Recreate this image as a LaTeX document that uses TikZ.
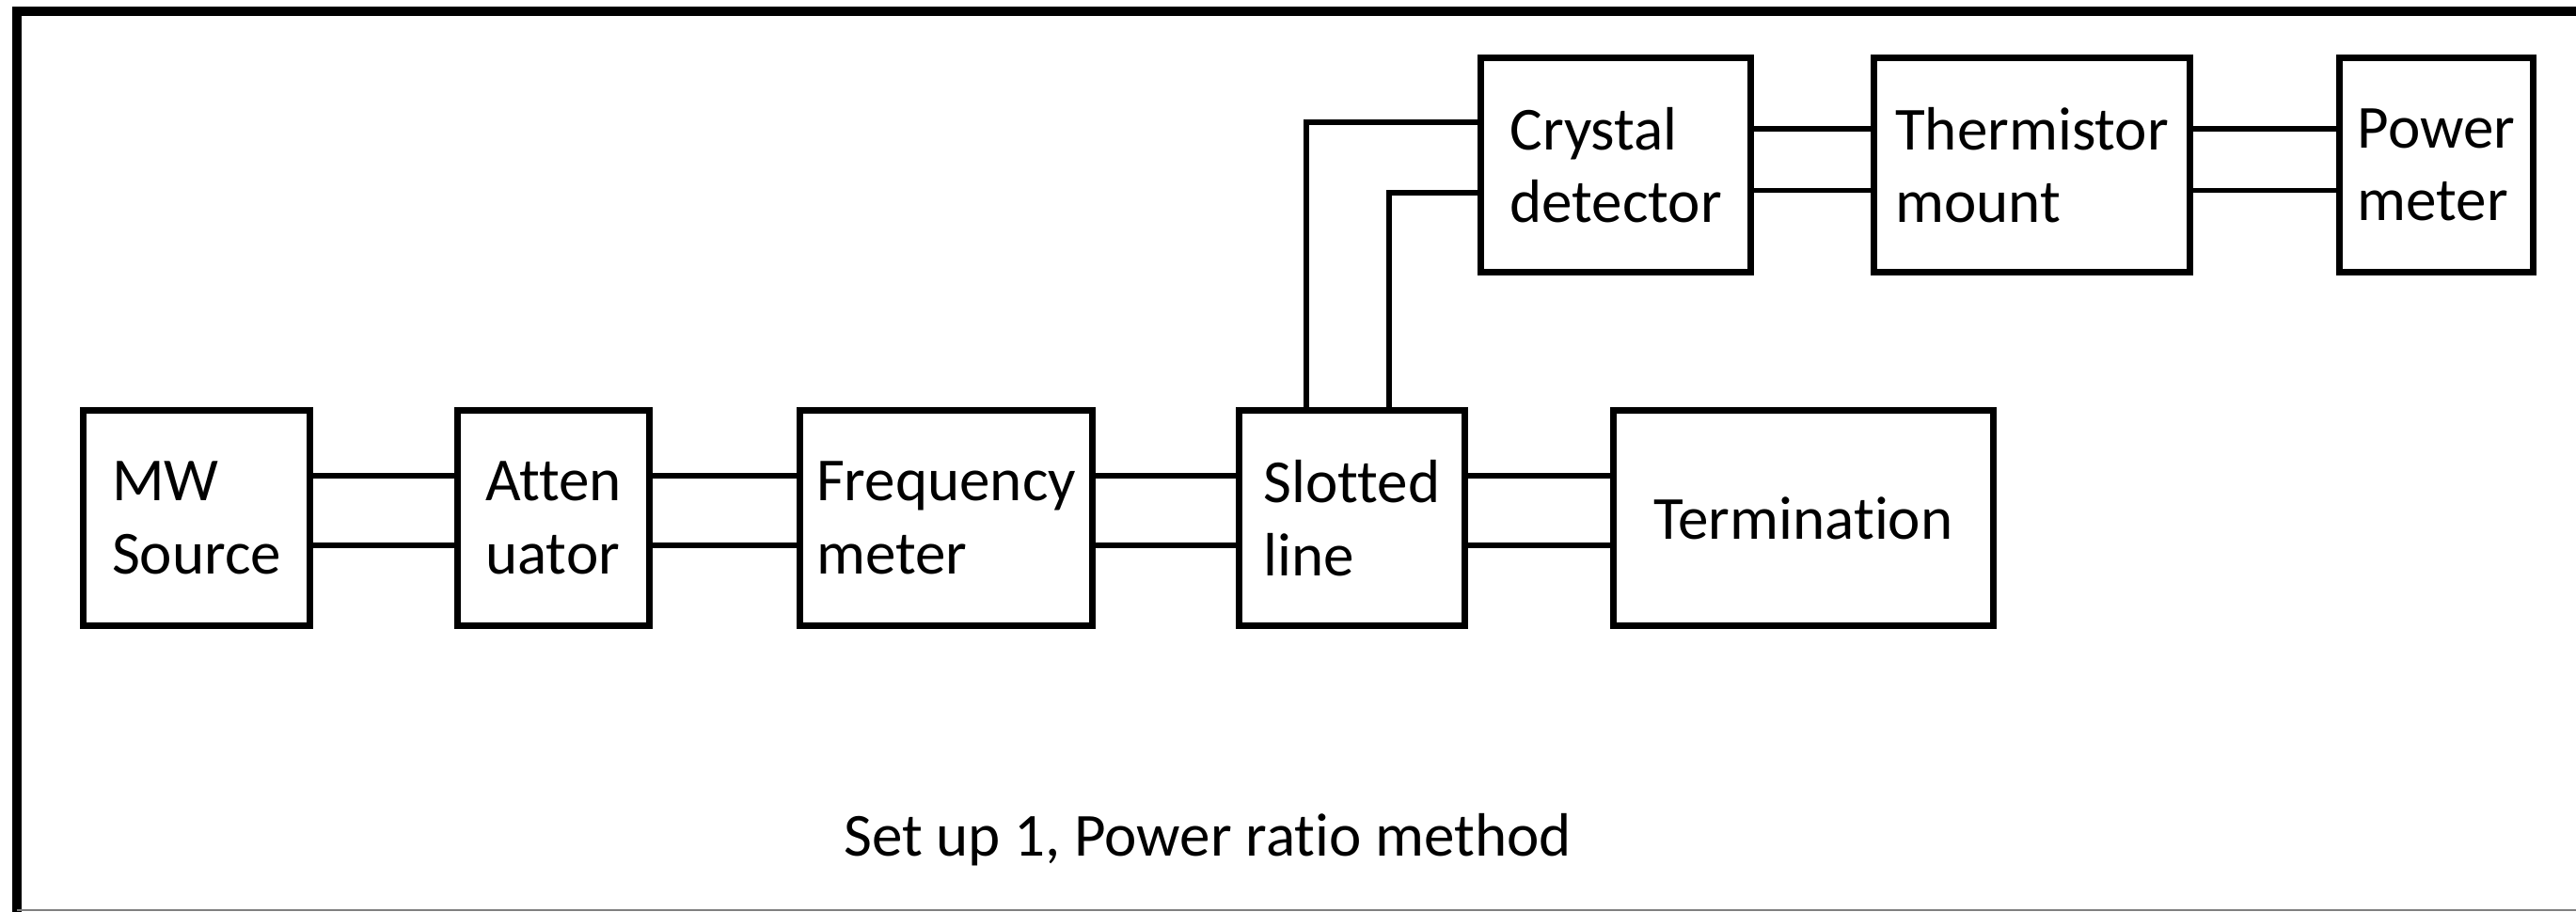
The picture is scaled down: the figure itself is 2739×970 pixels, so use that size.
\documentclass[tikz,border=0pt]{standalone}
\usepackage{fontspec}
\setmainfont[Ligatures=NoCommon]{Carlito}
\usepackage{tikz}
\usetikzlibrary{positioning,calc}

\begin{document}
\begin{tikzpicture}[
  x=0.01cm, y=-0.01cm,
  every node/.style={font=\fontsize{18.5}{22}\selectfont},
  blk/.style={rectangle, draw, line width=2pt, minimum height=2.28cm, align=left, inner sep=0pt},
  wire/.style={line width=1.5pt},
]
\useasboundingbox (0,0) rectangle (2739,970);

% ---- Outer frame ----
\draw[line width=3pt] (18,970) -- (18,12) -- (2739,12);
\draw[gray, line width=0.6pt] (18,968) -- (2739,968);

% ---- Lower row ----
\node[blk, minimum width=2.40cm] (src) at (209,551) {MW\\Source};
\node[blk, minimum width=2.03cm] (att) at (588.5,551) {Atten\\uator};
\node[blk, minimum width=3.10cm] (freq) at (1006,551) {Frequency\\meter};
\node[blk, minimum width=2.39cm] (slot) at (1437.5,551) {Slotted\\line};
\node[blk, minimum width=4.03cm] (term) at (1917.5,551) {Termination};

% ---- Upper row ----
\node[blk, minimum width=2.86cm, minimum height=2.27cm] (cry) at (1718,175.5) {Crystal\\detector};
\node[blk, minimum width=3.35cm, minimum height=2.27cm] (therm) at (2160.5,175.5) {Thermistor\\mount};
\node[blk, minimum width=2.05cm, minimum height=2.27cm] (pm) at (2590.5,175.5) {Power\\meter};

% ---- Double lines between blocks ----
\foreach \a/\b in {src/att, att/freq, freq/slot, slot/term} {
  \draw[wire] ([yshift=0.45cm]\a.east) -- ([yshift=0.45cm]\b.west);
  \draw[wire] ([yshift=-0.29cm]\a.east) -- ([yshift=-0.29cm]\b.west);
}
\foreach \a/\b in {cry/therm, therm/pm} {
  \draw[wire] ([yshift=0.385cm]\a.east) -- ([yshift=0.385cm]\b.west);
  \draw[wire] ([yshift=-0.27cm]\a.east) -- ([yshift=-0.27cm]\b.west);
}

% ---- Slotted line up to crystal detector ----
\draw[wire] ([xshift=-0.485cm]slot.north) |- ([yshift=0.455cm]cry.west);
\draw[wire] ([xshift=0.395cm]slot.north) |- ([yshift=-0.295cm]cry.west);

% ---- Caption ----
\node[anchor=base] (cap) at (1284,910) {Set up 1, Power ratio method};

\end{tikzpicture}
\end{document}
